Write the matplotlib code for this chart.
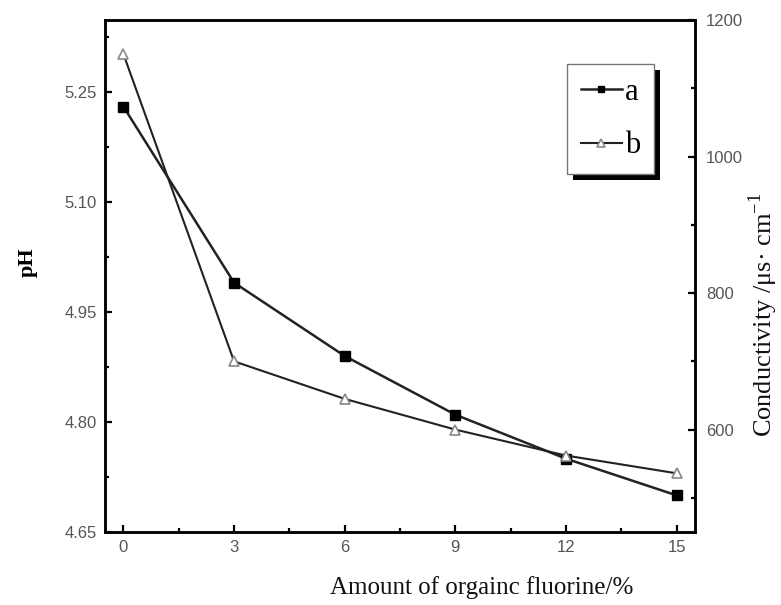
import matplotlib
matplotlib.use("Agg")
import matplotlib.pyplot as plt
from matplotlib.patches import Rectangle
from matplotlib.ticker import MultipleLocator

# Data
fluorine = [0, 3, 6, 9, 12, 15]
ph_a = [5.23, 4.99, 4.89, 4.81, 4.75, 4.70]
cond_b = [1150, 700, 645, 600, 562, 536]
x_ticks = [0, 3, 6, 9, 12, 15]
ph_ticks = [4.65, 4.80, 4.95, 5.10, 5.25]
cond_ticks = [600, 800, 1000, 1200]

fig = plt.figure(figsize=(7.81, 6.05), dpi=100)
ax = fig.add_axes([105/781, 1-532/605, 590/781, 512/605])
ax2 = ax.twinx()

line_col = "#222222"
tick_col = "#555555"

la, = ax.plot(fluorine, ph_a, color=line_col, lw=1.8, marker="s", ms=6.5,
              mfc="black", mec="black", label="a", zorder=3)
lb, = ax2.plot(fluorine, cond_b, color=line_col, lw=1.5, marker="^", ms=7.5,
               mfc="white", mec="#888888", mew=1.2, label="b", zorder=3)

ax.set_xlim(-0.5, 15.5)
ax.set_ylim(4.65, 4.65 + 512/110*0.15)
ax2.set_ylim(450, 1200)

ax.set_xticks(x_ticks)
ax.set_yticks(ph_ticks)
ax.set_yticklabels([f"{v:.2f}" for v in ph_ticks])
ax2.set_yticks(cond_ticks)
ax.xaxis.set_minor_locator(MultipleLocator(1.5))
ax.yaxis.set_minor_locator(MultipleLocator(0.075))
ax2.yaxis.set_minor_locator(MultipleLocator(100))

for a in (ax, ax2):
    for s in a.spines.values():
        s.set_linewidth(1.8)
        s.set_color("black")

ax.tick_params(axis="both", which="both", direction="in", top=False, right=False,
               width=1.6, color="black", labelcolor=tick_col, labelsize=12, pad=6)
ax.tick_params(which="major", length=5)
ax.tick_params(which="minor", length=3)
ax2.tick_params(axis="y", which="both", direction="in", width=1.6, color="black",
                labelcolor=tick_col, labelsize=12, pad=8)
ax2.tick_params(which="major", length=5)
ax2.tick_params(which="minor", length=3)
for lab in ax.get_xticklabels() + ax.get_yticklabels() + ax2.get_yticklabels():
    lab.set_family("Liberation Sans")

fig.text(482/781, 1-588/605, "Amount of orgainc fluorine/%", family="Liberation Serif",
         fontsize=18, ha="center", va="center", color="#111111")
fig.text(28/781, 1-262/605, "pH", family="Liberation Serif", fontsize=16,
         fontweight="bold", ha="center", va="center", rotation=90)
fig.text(763/781, 1-315/605, r"Conductivity /μs· cm$^{\mathregular{-1}}$",
         family="Liberation Serif", fontsize=19, ha="center", va="center", rotation=90,
         color="#111111")

leg = ax2.legend(handles=[la, lb], loc="upper left", bbox_to_anchor=(462/590, 1-44/512),
                 prop={"family": "Liberation Serif", "size": 22}, numpoints=1,
                 markerscale=0.7, handlelength=1.35, handletextpad=0.1,
                 labelspacing=0.8, borderpad=0.45, fancybox=False, frameon=True,
                 borderaxespad=0, framealpha=1, facecolor="white")
leg.get_frame().set_edgecolor("#777777")
leg.get_frame().set_linewidth(1.0)
leg.set_zorder(10)

fig.canvas.draw()
bb = leg.get_window_extent()
shadow = Rectangle((bb.x0 + 6, bb.y0 - 6), bb.width, bb.height, transform=None,
                   facecolor="black", edgecolor="none", zorder=9)
ax2.add_artist(shadow)

fig.savefig("out.png", dpi=100)
